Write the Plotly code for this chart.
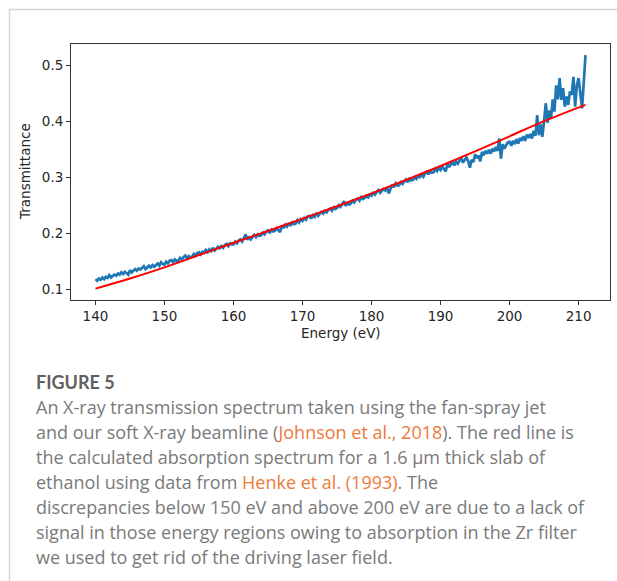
import plotly.graph_objects as go

# ---------------- data ----------------
energy_start = 140.0
energy_step = 0.25
transmittance_measured = [
    .119, .116, .120, .118,  .122, .119, .123, .121,  .126, .122, .125, .127,
    .125, .129, .127, .131,  .128, .132, .130, .127,  .135, .131, .134, .137,
    .134, .138, .136, .139,  .142, .137, .140, .143,  .140, .144, .141, .145,
    .147, .143, .149, .146,  .145, .150, .147, .152,  .153, .149, .154, .151,
    .152, .157, .154, .158,  .161, .156, .160, .158,  .159, .164, .161, .166,
    .167, .163, .168, .166,  .171, .167, .172, .169,  .175, .170, .174, .177,
    .174, .178, .175, .180,  .182, .178, .183, .181,  .181, .186, .183, .188,
    .190, .186, .192, .199,  .189, .195, .190, .194,  .198, .194, .199, .196,
    .197, .202, .199, .204,  .206, .201, .207, .204,  .205, .210, .207, .203,
    .215, .210, .216, .213,  .219, .214, .220, .217,  .218, .224, .220, .226,
    .223, .228, .225, .231,  .232, .227, .233, .230,  .237, .232, .236, .239,
    .236, .241, .238, .243,  .245, .241, .247, .244,  .246, .251, .248, .253,
    .258, .250, .254, .252,  .254, .259, .256, .261,  .263, .259, .265, .262,
    .264, .268, .265, .270,  .268, .273, .270, .275,  .278, .273, .277, .280,
    .277, .283, .272, .279,  .288, .283, .290, .286,  .287, .292, .289, .294,
    .297, .292, .298, .295,  .296, .301, .298, .303,  .301, .306, .302, .308,
    .311, .306, .312, .309,  .310, .316, .312, .318,  .314, .320, .316, .311,
    .326, .319, .324, .328,  .322, .329, .325, .331,  .334, .327, .332, .336,
    .330, .318, .332, .328,  .342, .335, .340, .329,  .346, .340, .348, .343,
    .350, .343, .352, .347,  .355, .348, .370, .334,  .360, .352, .358, .363,
    .364, .357, .366, .360,  .369, .361, .371, .366,  .374, .366, .377, .371,
    .378, .370, .384, .375,  .412, .376, .395, .373,  .402, .433, .398, .420,
    .405, .440, .418, .465,  .440, .478, .439, .460,  .427, .445, .430, .454,
    .448, .480, .427, .465,  .478, .450, .424, .470,
    .519,
]
energy_measured = [energy_start + i * energy_step for i in range(len(transmittance_measured))]

energy_calc = [140, 145, 150, 155, 160, 165, 170, 175, 180, 185, 190, 195, 200, 205, 211]
transmittance_calc = [.102, .120, .140, .162, .184, .205, .227, .249, .272, .296, .321, .347, .374, .401, .430]

x_ticks = [140, 150, 160, 170, 180, 190, 200, 210]
y_ticks = [0.1, 0.2, 0.3, 0.4, 0.5]
y_tick_labels = ["0.1", "0.2", "0.3", "0.4", "0.5"]

caption_title = "FIGURE 5"
link_color = "#ee7a3a"
caption_lines = [
    "An X-ray transmission spectrum taken using the fan-spray jet",
    "and our soft X-ray beamline (<span style='color:%s'>Johnson et al., 2018</span>). The red line is" % link_color,
    "the calculated absorption spectrum for a 1.6 \u03bcm thick slab of",
    "ethanol using data from <span style='color:%s'>Henke et al. (1993)</span>. The" % link_color,
    "discrepancies below 150 eV and above 200 eV are due to a lack of",
    "signal in those energy regions owing to absorption in the Zr filter",
    "we used to get rid of the driving laser field.",
]

# ---------------- layout geometry (pixels) ----------------
W, H = 617, 581
L, R, T, B = 71, 610, 44, 300


def px(x):
    return (x - L) / (R - L)


def py(y):
    return (B - y) / (B - T)


fig = go.Figure()
fig.add_trace(go.Scatter(x=energy_measured, y=transmittance_measured, mode="lines",
                         line=dict(color="#1f77b4", width=2.7), showlegend=False))
fig.add_trace(go.Scatter(x=energy_calc, y=transmittance_calc, mode="lines",
                         line=dict(color="#ff0000", width=2, shape="spline"), showlegend=False))

axis_font = dict(family="DejaVu Sans", size=13.5, color="#262626")
fig.update_xaxes(range=[136.45, 214.55], tickvals=x_ticks, ticks="outside", ticklen=4,
                 tickcolor="#333", showline=True, linecolor="#333", linewidth=1, mirror=True,
                 showgrid=False, zeroline=False, tickfont=axis_font)
fig.update_yaxes(range=[0.0817, 0.5388], tickvals=y_ticks, ticktext=y_tick_labels, ticks="outside",
                 ticklen=4, tickcolor="#333", showline=True, linecolor="#333", linewidth=1,
                 mirror=True, showgrid=False, zeroline=False, tickfont=axis_font)

annotations = [
    dict(text="Energy (eV)", x=px(341), y=py(333), xref="paper", yref="paper",
         showarrow=False, font=axis_font, xanchor="center", yanchor="middle"),
    dict(text="Transmittance", x=px(25), y=py(172), xref="paper", yref="paper",
         showarrow=False, font=axis_font, textangle=-90, xanchor="center", yanchor="middle"),
    dict(text="<b>" + caption_title + "</b>", x=px(34), y=py(382), xref="paper", yref="paper",
         showarrow=False, font=dict(family="Lato", size=18, color="#5f5f5f"),
         xanchor="left", yanchor="middle"),
]
line_y = [407, 432, 457, 482, 507, 532, 557]
for txt, yy in zip(caption_lines, line_y):
    annotations.append(dict(text=txt, x=px(34), y=py(yy), xref="paper", yref="paper",
                            showarrow=False, font=dict(family="Open Sans", size=18, color="#7a7a7a"),
                            xanchor="left", yanchor="middle", align="left"))

shapes = [
    dict(type="line", xref="paper", yref="paper", x0=px(9.5), x1=px(9.5), y0=py(9), y1=py(581),
         line=dict(color="#d6d6d6", width=1.5)),
    dict(type="line", xref="paper", yref="paper", x0=px(9), x1=px(617), y0=py(9.5), y1=py(9.5),
         line=dict(color="#d6d6d6", width=1.5)),
]

fig.update_layout(width=W, height=H, margin=dict(l=L, r=W - R, t=T, b=H - B, pad=0),
                  paper_bgcolor="white", plot_bgcolor="white",
                  annotations=annotations, shapes=shapes)

fig.write_html("out.html", config={"displayModeBar": False},
               post_script="document.body.style.margin='0';document.body.style.overflow='hidden';")
